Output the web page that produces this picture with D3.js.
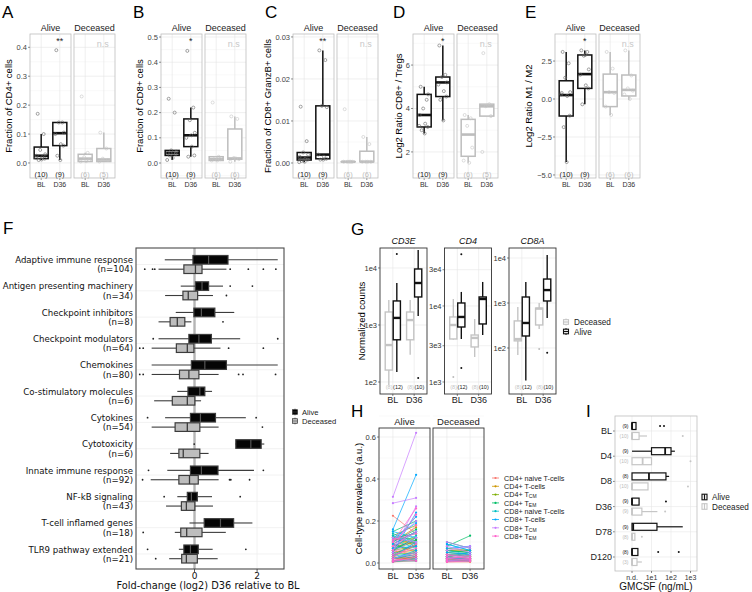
<!DOCTYPE html>
<html>
<head>
<meta charset="utf-8">
<script src="https://cdn.jsdelivr.net/npm/d3@7"></script>
<style>
  body { margin: 0; background: #fff; }
</style>
</head>
<body>
<script>
'use strict';

// ---------- shared ----------
const times = ['BL', 'D36'];
const facets = ['Alive', 'Deceased'];

// ---------- A-E : five-number summaries [lo, q1, median, q3, hi] and points
// order of groups: Alive BL, Alive D36, Deceased BL, Deceased D36
const aStats = [[0.01, 0.015, 0.025, 0.055, 0.10], [0.01, 0.06, 0.103, 0.14, 0.14], [0.005, 0.005, 0.015, 0.03, 0.035], [0.005, 0.005, 0.012, 0.05, 0.105]];
const aPoints = [[0.17, 0.10, 0.045, 0.03, 0.025, 0.02, 0.015, 0.01, 0.012, 0.018], [0.39, 0.14, 0.14, 0.105, 0.10, 0.065, 0.06, 0.025, 0.01], [0.23, 0.035, 0.02, 0.01, 0.005, 0.006], [0.105, 0.05, 0.015, 0.01, 0.005]];
const aCounts = ['(10)', '(9)', '(6)', '(5)'];

const bStats = [[0.012, 0.03, 0.04, 0.05, 0.05], [0.025, 0.065, 0.11, 0.175, 0.22], [0.01, 0.01, 0.015, 0.025, 0.025], [0.005, 0.015, 0.018, 0.135, 0.185]];
const bPoints = [[0.255, 0.2, 0.05, 0.045, 0.04, 0.04, 0.035, 0.03, 0.02, 0.012], [0.445, 0.22, 0.17, 0.12, 0.10, 0.065, 0.03, 0.025, 0.11], [0.24, 0.025, 0.02, 0.015, 0.01, 0.01], [0.185, 0.175, 0.02, 0.015, 0.005, 0.018]];
const bCounts = ['(10)', '(9)', '(6)', '(6)'];

const cStats = [[0.0002, 0.0007, 0.0013, 0.0025, 0.0025], [0.0008, 0.001, 0.002, 0.0136, 0.0268], [0.0003, 0.0003, 0.0003, 0.0003, 0.0003], [0.0003, 0.0003, 0.0003, 0.0028, 0.0062]];
const cPoints = [[0.0134, 0.0052, 0.0025, 0.002, 0.0015, 0.001, 0.0008, 0.0005, 0.0003, 0.0002], [0.0268, 0.0245, 0.0136, 0.0133, 0.002, 0.0015, 0.001, 0.0008, 0.0008], [0.0128, 0.0003, 0.0003, 0.0003, 0.0003, 0.0003], [0.0062, 0.0045, 0.0003, 0.0003, 0.0003, 0.0003]];
const cCounts = ['(10)', '(9)', '(6)', '(6)'];

const dStats = [[2.85, 3.15, 3.7, 4.65, 5.0], [3.45, 4.55, 5.2, 5.45, 6.9], [1.5, 1.8, 2.8, 3.5, 3.7], [3.65, 3.65, 4.1, 4.2, 4.2]];
const dPoints = [[5.0, 4.4, 4.0, 4.65, 3.7, 3.3, 3.15, 3.0, 2.85, 3.2], [6.9, 5.55, 5.45, 5.2, 5.1, 4.8, 4.55, 4.4, 3.45], [3.7, 3.55, 3.2, 2.2, 1.6, 1.5], [6.55, 4.2, 4.1, 3.65, 2.0]];
const dCounts = ['(10)', '(9)', '(6)', '(5)'];

const eStats = [[-4.15, -1.12, 0.26, 1.2, 3.1], [-0.35, 0.7, 1.64, 2.9, 3.2], [-1.05, -0.5, 0.45, 1.64, 3.1], [-0.06, 0.2, 0.6, 1.58, 3.2]];
const ePoints = [[3.1, 2.35, 1.4, 0.45, 0.4, 0.2, -1.1, -1.85, -4.15, 0.3], [3.2, 3.1, 2.85, 1.95, 1.6, 0.9, 0.7, -0.35, 2.9], [3.1, 2.0, 0.45, 0.4, -0.5, -1.05], [3.2, 1.55, 0.7, 0.55, 0.3, 0.0]];
const eCounts = ['(10)', '(9)', '(6)', '(6)'];

// ---------- F ----------
const fNames = ['Adaptive immune response', 'Antigen presenting machinery', 'Checkpoint inhibitors', 'Checkpoint modulators', 'Chemokines', 'Co-stimulatory molecules', 'Cytokines', 'Cytotoxicity', 'Innate immune response', 'NF-kB signaling', 'T-cell inflamed genes', 'TLR9 pathway extended'];
const fN = [104, 34, 8, 64, 80, 6, 54, 6, 92, 43, 18, 21];
const fAliveStats = [
  [-0.95, -0.05, 0.45, 1.07, 2.66], [-0.44, 0.03, 0.24, 0.45, 0.91], [-0.6, -0.02, 0.22, 0.65, 1.27],
  [-1.15, -0.18, 0.14, 0.54, 1.46], [-1.37, -0.10, 0.33, 1.02, 2.66], [-0.55, -0.21, 0.17, 0.33, 0.56],
  [-0.94, -0.13, 0.19, 0.67, 1.64], [1.30, 1.32, 1.80, 2.13, 2.23], [-0.87, -0.13, 0.22, 0.75, 1.90],
  [-0.55, -0.23, -0.10, 0.09, 0.56], [-0.16, 0.31, 0.83, 1.25, 1.85], [-0.50, -0.34, -0.13, 0.12, 0.58]
];
const fAliveOut = [[], [1.14, 1.85], [], [-1.32, 2.66], [], [], [-1.5, 1.97], [-0.01], [-1.47, 2.2], [-0.97, 1.46], [], [-1.5, 1.64]];
const fDecStats = [
  [-1.15, -0.34, 0.03, 0.24, 1.02], [-0.94, -0.37, -0.2, 0.1, 0.59], [-1.15, -0.78, -0.55, -0.31, -0.1],
  [-1.37, -0.58, -0.23, -0.02, 0.83], [-1.37, -0.48, -0.18, 0.14, 0.77], [-1.29, -0.71, -0.23, 0.01, 0.21],
  [-1.37, -0.62, -0.23, 0.17, 0.77], [-0.78, -0.5, -0.36, 0.17, 0.45], [-1.4, -0.5, -0.16, 0.12, 0.77],
  [-0.91, -0.42, -0.26, 0.01, 0.59], [-0.63, -0.44, -0.25, 0.24, 1.0], [-0.81, -0.41, -0.26, 0.09, 0.74]
];
const fDecOut = [[-1.59, -1.34, -1.27, 1.14, 1.72, 2.2, 2.6], [1.02], [0.91], [-1.75, -1.64, 1.09, 2.2], [-1.75, -1.64, 1.41, 1.55, 2.59], [], [2.17], [], [-1.66, 1.12, 1.16, 1.76], [], [-1.64], [-1.24]];
const fTicks = [0, 2];

// ---------- G ----------
const gGenes = ['CD3E', 'CD4', 'CD8A'];
const gDomains = [[61.6, 22400], [695, 57900], [9.5, 16700]];
const gTicks = [[100, 1000, 10000], [1000, 3000, 10000, 30000], [100, 1000, 10000]];
// per gene: [Deceased BL, Alive BL, Deceased D36, Alive D36]
const gStats = [
  [[89, 162, 445, 1690, 2750], [150, 550, 1330, 2640, 5450], [300, 550, 1220, 1690, 2750], [1440, 3100, 5450, 9600, 20700]],
  [[3600, 3680, 5620, 7170, 12360], [3680, 5290, 7170, 10950, 15300], [2130, 2890, 3800, 4150, 6740], [4150, 5800, 12360, 13140, 20700]],
  [[70, 144, 158, 400, 815], [19, 185, 360, 1360, 2930], [265, 325, 750, 770, 1000], [464, 1110, 1940, 3410, 11660]]
];
const gOut = [
  [[], [17600], [], [117]],
  [[1160], [1530, 48000], [], []],
  [[], [], [95], [78]]
];
const gCounts = [['(8)', '(12)'], ['(8)', '(10)']];

// ---------- H : [BL, D36] per patient, one list per cell type ----------
const hLabels = [['CD4+ naive T-cells', ''], ['CD4+ T-cells', ''], ['CD4+ T', 'CM'], ['CD4+ T', 'EM'], ['CD8+ naive T-cells', ''], ['CD8+ T-cells', ''], ['CD8+ T', 'CM'], ['CD8+ T', 'EM']];
const hColors = ['#F8766D', '#CD9600', '#7CAE00', '#00BE67', '#00BFC4', '#00A9FF', '#C77CFF', '#FF61CC'];
const hAlive = [
  [[0.225, 0.14], [0.05, 0.08], [0.03, 0.02], [0.08, 0.10], [0.01, 0.03], [0.12, 0.09], [0.02, 0.05], [0.06, 0.04], [0.005, 0.01]],
  [[0.10, 0.17], [0.08, 0.12], [0.05, 0.06], [0.03, 0.09], [0.12, 0.08], [0.02, 0.02], [0.06, 0.11], [0.01, 0.03], [0.09, 0.05]],
  [[0.09, 0.15], [0.07, 0.10], [0.04, 0.05], [0.13, 0.18], [0.02, 0.03], [0.06, 0.08], [0.01, 0.02], [0.11, 0.12], [0.03, 0.01]],
  [[0.15, 0.20], [0.10, 0.16], [0.07, 0.11], [0.04, 0.09], [0.12, 0.14], [0.02, 0.04], [0.09, 0.06], [0.005, 0.02], [0.06, 0.12]],
  [[0.14, 0.10], [0.08, 0.13], [0.05, 0.03], [0.11, 0.07], [0.02, 0.05], [0.07, 0.15], [0.01, 0.01], [0.13, 0.09], [0.04, 0.02]],
  [[0.16, 0.42], [0.10, 0.22], [0.05, 0.24], [0.09, 0.15], [0.03, 0.10], [0.12, 0.19], [0.02, 0.06], [0.07, 0.08], [0.15, 0.12]],
  [[0.315, 0.62], [0.285, 0.31], [0.10, 0.20], [0.05, 0.12], [0.08, 0.15], [0.02, 0.05], [0.12, 0.10], [0.01, 0.02], [0.06, 0.27]],
  [[0.10, 0.26], [0.06, 0.18], [0.03, 0.09], [0.01, 0.04], [0.08, 0.23], [0.02, 0.01], [0.04, 0.07], [0.005, 0.03], [0.11, 0.14]]
];
const hDec = [
  [[0.02, 0.01], [0.01, 0.02], [0.03, 0.015], [0.005, 0.005], [0.015, 0.01], [0.04, 0.03]],
  [[0.05, 0.04], [0.03, 0.05], [0.02, 0.01], [0.06, 0.06], [0.01, 0.02], [0.04, 0.03]],
  [[0.06, 0.05], [0.04, 0.035], [0.02, 0.03], [0.07, 0.06], [0.01, 0.01], [0.03, 0.02]],
  [[0.08, 0.13], [0.05, 0.06], [0.03, 0.04], [0.10, 0.07], [0.02, 0.02], [0.06, 0.05]],
  [[0.09, 0.06], [0.04, 0.05], [0.02, 0.03], [0.06, 0.04], [0.01, 0.02], [0.03, 0.01]],
  [[0.07, 0.08], [0.05, 0.04], [0.03, 0.05], [0.02, 0.02], [0.09, 0.06], [0.01, 0.01]],
  [[0.10, 0.07], [0.06, 0.08], [0.04, 0.03], [0.02, 0.04], [0.08, 0.05], [0.01, 0.02]],
  [[0.03, 0.02], [0.02, 0.03], [0.01, 0.01], [0.04, 0.02], [0.005, 0.01], [0.02, 0.015]]
];
const hTicks = [0, 0.2, 0.4, 0.6];

// ---------- I : GMCSF, n.d. shown as 1 ----------
const iDays = ['BL', 'D4', 'D8', 'D36', 'D78', 'D120'];
const iAliveStats = [[1, 1, 1, 1.6, 1.6], [1, 10, 50, 100, 158], [1, 1, 7.4, 55, 80], [1, 1, 1, 2.3, 2.3], [1, 1, 1.15, 19, 400], [1, 1, 1, 2, 2]];
const iAliveOut = [[27.5, 43.6], [], [], [55], [], [22, 250]];
const iDecStats = [[1, 1, 1, 2.3, 5.9], [1, 1, 3.5, 10, 10], [1, 1, 1, 6.6, 6.6], [1, 1, 1, 3.2, 20], [1, 1, 1, 1.4, 1.4], [1, 1, 1, 1.8, 3.2]];
const iDecOut = [[400], [1000], [740], [50], [3.2], []];
const iAliveCounts = ['(9)', '(9)', '(8)', '(9)', '(9)', '(8)'];
const iDecCounts = ['(10)', '(10)', '(10)', '(9)', '(8)', '(3)'];
const iTicks = [1, 10, 100, 1000];
const iTickLabels = ['n.d.', '1e1', '1e2', '1e3'];

// =====================================================================
const svg = d3.select('body').append('svg')
    .attr('width', 752).attr('height', 592)
    .style('font-family', '"Liberation Sans", Arial, sans-serif');

function ln(g, x1, y1, x2, y2, c, w) {
  return g.append('line')
      .attr('x1', x1).attr('y1', y1).attr('x2', x2).attr('y2', y2)
      .attr('stroke', c).attr('stroke-width', w);
}

function txt(g, x, y, s, size, fill, anchor) {
  return g.append('text')
      .attr('x', x).attr('y', y)
      .attr('font-size', size)
      .attr('fill', fill || '#000')
      .attr('text-anchor', anchor || 'middle')
      .text(s);
}

function frame(g, x, y, w, h, c, sw) {
  g.append('rect').attr('x', x).attr('y', y).attr('width', w).attr('height', h)
      .attr('fill', 'none').attr('stroke', c).attr('stroke-width', sw);
}

// box: s = [lo,q1,med,q3,hi], pos = centre across, vs = value scale
function box(g, s, pos, half, vs, horiz, st) {
  const [lo, q1, md, q3, hi] = s.map(vs);
  const L = (a1, b1, a2, b2) => horiz ? [a1, b1, a2, b2] : [b1, a1, b2, a2];
  ln(g, ...L(lo, pos, q1, pos), st.whisk || st.stroke, st.ww || st.sw);
  ln(g, ...L(q3, pos, hi, pos), st.whisk || st.stroke, st.ww || st.sw);
  const r = g.append('rect').attr('fill', st.fill).attr('stroke', st.stroke).attr('stroke-width', st.sw);
  if (horiz) {
    r.attr('x', Math.min(q1, q3)).attr('y', pos - half).attr('width', Math.abs(q3 - q1)).attr('height', 2 * half);
  } else {
    r.attr('x', pos - half).attr('y', Math.min(q1, q3)).attr('width', 2 * half).attr('height', Math.max(Math.abs(q1 - q3), 0.01));
  }
  ln(g, ...L(md, pos - half, md, pos + half), st.med || st.stroke, st.mw);
}

function letter(s, x, y) {
  txt(svg, x, y, s, 17, '#000', 'start');
}

// ---------- A-E ----------
const jit = [-3.5, 2.5, -1, 4, -4.5, 1, 3.5, -2.5, 0.5, -5];

function topPanel(p) {
  const g = svg.append('g');
  const top = 34, bot = 178, w = 41;
  const y = d3.scaleLinear().domain(p.domain).range([bot, top]);
  const step = p.ticks[1] - p.ticks[0];
  const minors = d3.range(p.ticks[0] - step / 2, p.domain[1], step).filter(v => v > p.domain[0]);
  let xs = [];
  facets.forEach((f, fi) => {
    const left = p.left + fi * 44;
    const x = d3.scalePoint().domain(times).range([left + w * 0.6 / 2.2, left + w * 1.6 / 2.2]);
    xs.push(x);
    minors.forEach(v => ln(g, left, y(v), left + w, y(v), '#f2f2f2', 0.5));
    p.ticks.forEach(v => ln(g, left, y(v), left + w, y(v), '#e4e4e4', 0.6));
    times.forEach(t => ln(g, x(t), top, x(t), bot, '#e4e4e4', 0.6));
    const alive = fi === 0;
    const col = alive ? '#111' : '#bdbdbd';
    times.forEach((t, ti) => {
      const k = fi * 2 + ti;
      box(g, p.stats[k], x(t), 7, y, false, { fill: '#fff', stroke: col, sw: 1.5, mw: 2.6 });
      p.points[k].forEach((v, i) => {
        g.append('circle').attr('cx', x(t) + jit[i % jit.length]).attr('cy', y(v)).attr('r', 1.5)
            .attr('fill', 'none').attr('stroke', alive ? '#666' : '#c6c6c6').attr('stroke-width', 0.6);
      });
      txt(g, x(t), 176.5, p.counts[k], 7.5, alive ? '#222' : '#bbb');
      ln(g, x(t), bot, x(t), bot + 2, '#444', 0.6);
      txt(g, x(t), 186.5, t, 7, '#333');
    });
    frame(g, left, top, w, bot - top, '#bdbdbd', 0.8);
    txt(g, left + w / 2, 31, f, 9, '#222');
  });
  p.ticks.forEach(v => {
    ln(g, p.left - 2, y(v), p.left, y(v), '#444', 0.6);
    txt(g, p.left - 3, y(v) + 2.6, p.fmt(v), 7.5, '#444', 'end');
  });
  g.append('text').attr('transform', `translate(${p.titleX},${(top + bot) / 2}) rotate(-90)`)
      .attr('text-anchor', 'middle').attr('font-size', 9.5).text(p.title);
  txt(g, xs[0]('D36'), 44, p.sig, 9, '#222');
  txt(g, xs[1]('D36') - 1, 47, 'n.s', 9, '#c8c8c8');
  letter(p.letter, p.letterX, 18);
}

topPanel({ letter: 'A', letterX: 2, left: 30, titleX: 12, title: 'Fraction of CD4+ cells', domain: [-0.052, 0.446], ticks: [0, 0.1, 0.2, 0.3, 0.4], fmt: d3.format('.1f'), stats: aStats, points: aPoints, counts: aCounts, sig: '**' });
topPanel({ letter: 'B', letterX: 133, left: 161, titleX: 143, title: 'Fraction of CD8+ cells', domain: [-0.0595, 0.512], ticks: [0, 0.1, 0.2, 0.3, 0.4, 0.5], fmt: d3.format('.1f'), stats: bStats, points: bPoints, counts: bCounts, sig: '*' });
topPanel({ letter: 'C', letterX: 265, left: 293, titleX: 271, title: 'Fraction of CD8+ GranzB+ cells', domain: [-0.00357, 0.0307], ticks: [0, 0.01, 0.02, 0.03], fmt: d3.format('.2f'), stats: cStats, points: cPoints, counts: cCounts, sig: '**' });
topPanel({ letter: 'D', letterX: 393, left: 413, titleX: 402, title: 'Log2 Ratio CD8+ / Tregs', domain: [0.8, 7.43], ticks: [2, 4, 6], fmt: d3.format('d'), stats: dStats, points: dPoints, counts: dCounts, sig: '*' });
topPanel({ letter: 'E', letterX: 525, left: 555, titleX: 532, title: 'Log2 Ratio M1 / M2', domain: [-5.2, 4.28], ticks: [-5, -2.5, 0, 2.5], fmt: d3.format('.1f'), stats: eStats, points: ePoints, counts: eCounts, sig: '*' });

// ---------- F ----------
(function () {
  const g = svg.append('g').style('font-family', '"DejaVu Sans", sans-serif');
  const L = 136, R = 284, T = 248, B = 569;
  const x = d3.scaleLinear().domain([-1.87, 2.86]).range([L, R]);
  const y = d3.scalePoint().domain(fNames).range([264.5, 554]);
  fNames.forEach(c => ln(g, L, y(c), R, y(c), '#ececec', 0.7));
  fTicks.forEach(v => ln(g, x(v), T, x(v), B, '#ececec', 0.7));
  ln(g, x(0), T, x(0), B, '#b5b5b5', 2.4);
  fNames.forEach((c, i) => {
    const ya = y(c) - 4.7, yd = y(c) + 4.7;
    box(g, fAliveStats[i], ya, 4.3, x, true, { fill: '#050505', stroke: '#3c3c3c', sw: 1.2, whisk: '#3c3c3c', ww: 1.1, med: '#555', mw: 1.2 });
    box(g, fDecStats[i], yd, 4.3, x, true, { fill: '#bdbdbd', stroke: '#3c3c3c', sw: 1.2, whisk: '#3c3c3c', ww: 1.1, med: '#3c3c3c', mw: 1.3 });
    fAliveOut[i].forEach(v => g.append('circle').attr('cx', x(v)).attr('cy', ya).attr('r', 0.9).attr('fill', '#222'));
    fDecOut[i].forEach(v => g.append('circle').attr('cx', x(v)).attr('cy', yd).attr('r', 0.9).attr('fill', '#222'));
    txt(g, 133, ya + 3.2, c, 8.6, '#111', 'end');
    txt(g, 133, yd + 3.2, `(n=${fN[i]})`, 8.6, '#111', 'end');
  });
  frame(g, L, T, R - L, B - T, '#4a4a4a', 1.1);
  fTicks.forEach(v => {
    ln(g, x(v), B, x(v), B + 3, '#333', 0.8);
    txt(g, x(v), 579, v, 9, '#111');
  });
  txt(g, (L + R) / 2 - 2, 589, 'Fold-change (log2) D36 relative to BL', 9.8, '#111');
  // legend
  const lg = svg.append('g');
  [['Alive', '#050505'], ['Deceased', '#bdbdbd']].forEach((d, i) => {
    const cy = 412 + i * 9;
    ln(lg, 295, cy - 3.3, 295, cy + 3.3, '#333', 0.8);
    lg.append('rect').attr('x', 292.5).attr('y', cy - 2.3).attr('width', 5).attr('height', 4.6)
        .attr('fill', d[1]).attr('stroke', '#333').attr('stroke-width', 0.7);
    ln(lg, 292.5, cy, 297.5, cy, '#555', 0.6);
    txt(lg, 302, cy + 2.8, d[0], 7.6, '#222', 'start');
  });
  letter('F', 3, 234);
})();

// ---------- G ----------
(function () {
  const g = svg.append('g');
  const T = 248, B = 394, w = 47;
  const lefts = [380, 444.5, 509];
  const fmt = v => { const e = Math.floor(Math.log10(v) + 1e-9); return Math.round(v / Math.pow(10, e)) + 'e' + e; };
  gGenes.forEach((gene, gi) => {
    const left = lefts[gi];
    const y = d3.scaleLog().domain(gDomains[gi]).range([B, T]);
    const x = d3.scalePoint().domain(times).range([left + w * 0.6 / 2.2, left + w * 1.6 / 2.2]);
    gTicks[gi].forEach(v => ln(g, left, y(v), left + w, y(v), '#e6e6e6', 0.6));
    times.forEach(t => ln(g, x(t), T, x(t), B, '#e6e6e6', 0.6));
    times.forEach((t, ti) => {
      [0, 1].forEach(a => {
        const k = ti * 2 + a, px = x(t) + (a ? 4 : -4);
        const col = a ? '#111' : '#c4c4c4';
        box(g, gStats[gi][k], px, 3.6, y, false, { fill: '#fff', stroke: col, sw: 1.4, mw: 2.4 });
        gOut[gi][k].forEach(v => g.append('circle').attr('cx', px).attr('cy', y(v)).attr('r', 1).attr('fill', a ? '#111' : '#bbb'));
      });
      txt(g, x(t) - 0.3, 389, gCounts[ti][0], 5.5, '#c4c4c4', 'end');
      txt(g, x(t) + 0.3, 389, gCounts[ti][1], 5.5, '#222', 'start');
      ln(g, x(t), B, x(t), B + 2, '#333', 0.6);
      txt(g, x(t), 403, t, 9, '#222');
    });
    frame(g, left, T, w, B - T, '#333', 0.9);
    gTicks[gi].forEach(v => {
      ln(g, left - 2, y(v), left, y(v), '#333', 0.6);
      txt(g, left - 3, y(v) + 2.7, fmt(v), 7.5, '#333', 'end');
    });
    txt(g, left + w / 2, 244, gene, 9, '#111').attr('font-style', 'italic');
  });
  g.append('text').attr('transform', `translate(365,${(T + B) / 2}) rotate(-90)`)
      .attr('text-anchor', 'middle').attr('font-size', 9.5).text('Normalized counts');
  [['Deceased', '#c4c4c4'], ['Alive', '#111']].forEach((d, i) => {
    const cy = 322 + i * 9.5;
    ln(g, 566, cy - 3.5, 566, cy + 3.5, d[1], 1);
    g.append('rect').attr('x', 563.5).attr('y', cy - 2.3).attr('width', 5).attr('height', 4.6)
        .attr('fill', '#fff').attr('stroke', d[1]).attr('stroke-width', 1.1);
    ln(g, 563.5, cy, 568.5, cy, d[1], 1.2);
    txt(g, 574, cy + 3, d[0], 8.2, '#222', 'start');
  });
  letter('G', 351, 235);
})();

// ---------- H ----------
(function () {
  const g = svg.append('g');
  const T = 428, B = 569, w = 51;
  const y = d3.scaleLinear().domain([-0.0286, 0.643]).range([B, T]);
  [hAlive, hDec].forEach((data, fi) => {
    const left = [379, 433][fi];
    const x = d3.scalePoint().domain(times).range([left + w * 0.6 / 2.2, left + w * 1.6 / 2.2]);
    hTicks.forEach(v => ln(g, left, y(v), left + w, y(v), '#e8e8e8', 0.6));
    hTicks.forEach(v => ln(g, left, y(v + 0.1), left + w, y(v + 0.1), '#f3f3f3', 0.5));
    times.forEach(t => ln(g, x(t), T, x(t), B, '#e8e8e8', 0.6));
    data.forEach((pairs, ti) => pairs.forEach(pr => {
      ln(g, x('BL'), y(pr[0]), x('D36'), y(pr[1]), hColors[ti], 0.7);
      g.append('circle').attr('cx', x('BL')).attr('cy', y(pr[0])).attr('r', 1.1).attr('fill', hColors[ti]);
      g.append('circle').attr('cx', x('D36')).attr('cy', y(pr[1])).attr('r', 1.1).attr('fill', hColors[ti]);
    }));
    frame(g, left, T, w, B - T, '#333', 0.9);
    times.forEach(t => {
      ln(g, x(t), B, x(t), B + 2, '#333', 0.6);
      txt(g, x(t), 578.5, t, 9, '#222');
    });
    txt(g, left + w / 2, 425, facets[fi], 9.5, '#222');
  });
  hTicks.forEach(v => {
    ln(g, 377, y(v), 379, y(v), '#333', 0.6);
    txt(g, 376, y(v) + 2.7, d3.format('.1f')(v), 7.5, '#333', 'end');
  });
  g.append('text').attr('transform', `translate(362,${(T + B) / 2}) rotate(-90)`)
      .attr('text-anchor', 'middle').attr('font-size', 9.5).text('Cell-type prevalence (a.u.)');
  hLabels.forEach((lab, i) => {
    const cy = 478 + i * 8.3;
    ln(g, 492, cy, 499, cy, hColors[i], 0.8);
    g.append('circle').attr('cx', 495.5).attr('cy', cy).attr('r', 1.1).attr('fill', hColors[i]);
    const t = txt(g, 504, cy + 2.7, lab[0], 7.2, '#222', 'start');
    if (lab[1]) t.append('tspan').attr('font-size', 5).attr('dy', 1).text(lab[1]);
  });
  letter('H', 351, 417);
})();

// ---------- I ----------
(function () {
  const g = svg.append('g');
  const L = 615, R = 697, T = 416, B = 571;
  const x = d3.scaleLog().domain([0.134, 2150]).range([L, R]);
  const y = d3.scalePoint().domain(iDays).range([431, 557]);
  iTicks.forEach(v => ln(g, x(v), T, x(v), B, '#e6e6e6', 0.6));
  iDays.forEach(d => ln(g, L, y(d), R, y(d), '#e6e6e6', 0.6));
  iDays.forEach((d, i) => {
    const ya = y(d) - 5, yd = y(d) + 5;
    box(g, iAliveStats[i], ya, 3.5, x, true, { fill: '#fff', stroke: '#111', sw: 1.2, mw: 1.8 });
    box(g, iDecStats[i], yd, 3.5, x, true, { fill: '#fff', stroke: '#c6c6c6', sw: 1.2, mw: 1.8 });
    iAliveOut[i].forEach(v => g.append('circle').attr('cx', x(v)).attr('cy', ya).attr('r', 1).attr('fill', '#111'));
    iDecOut[i].forEach(v => g.append('circle').attr('cx', x(v)).attr('cy', yd).attr('r', 1).attr('fill', '#c6c6c6'));
    txt(g, 628.5, ya + 1.8, iAliveCounts[i], 5, '#222', 'end');
    txt(g, 628.5, yd + 1.8, iDecCounts[i], 5, '#bbb', 'end');
    ln(g, L - 2, y(d), L, y(d), '#333', 0.6);
    txt(g, L - 3, y(d) + 3, d, 9, '#222', 'end');
  });
  frame(g, L, T, R - L, B - T, '#bdbdbd', 0.8);
  iTicks.forEach((v, i) => {
    ln(g, x(v), B, x(v), B + 2, '#333', 0.6);
    txt(g, x(v), 579.5, iTickLabels[i], 7, '#333');
  });
  txt(g, (L + R) / 2, 590, 'GMCSF (ng/mL)', 10, '#111');
  [['Alive', '#111'], ['Deceased', '#c6c6c6']].forEach((d, i) => {
    const cy = 497 + i * 9.5;
    g.append('rect').attr('x', 702).attr('y', cy - 2.8).attr('width', 5).attr('height', 5.6)
        .attr('fill', '#fff').attr('stroke', d[1]).attr('stroke-width', 1.1);
    ln(g, 704.5, cy - 2.8, 704.5, cy + 2.8, d[1], 1.2);
    txt(g, 712, cy + 3, d[0], 8.2, '#222', 'start');
  });
  letter('I', 586, 417);
})();
</script>
</body>
</html>
